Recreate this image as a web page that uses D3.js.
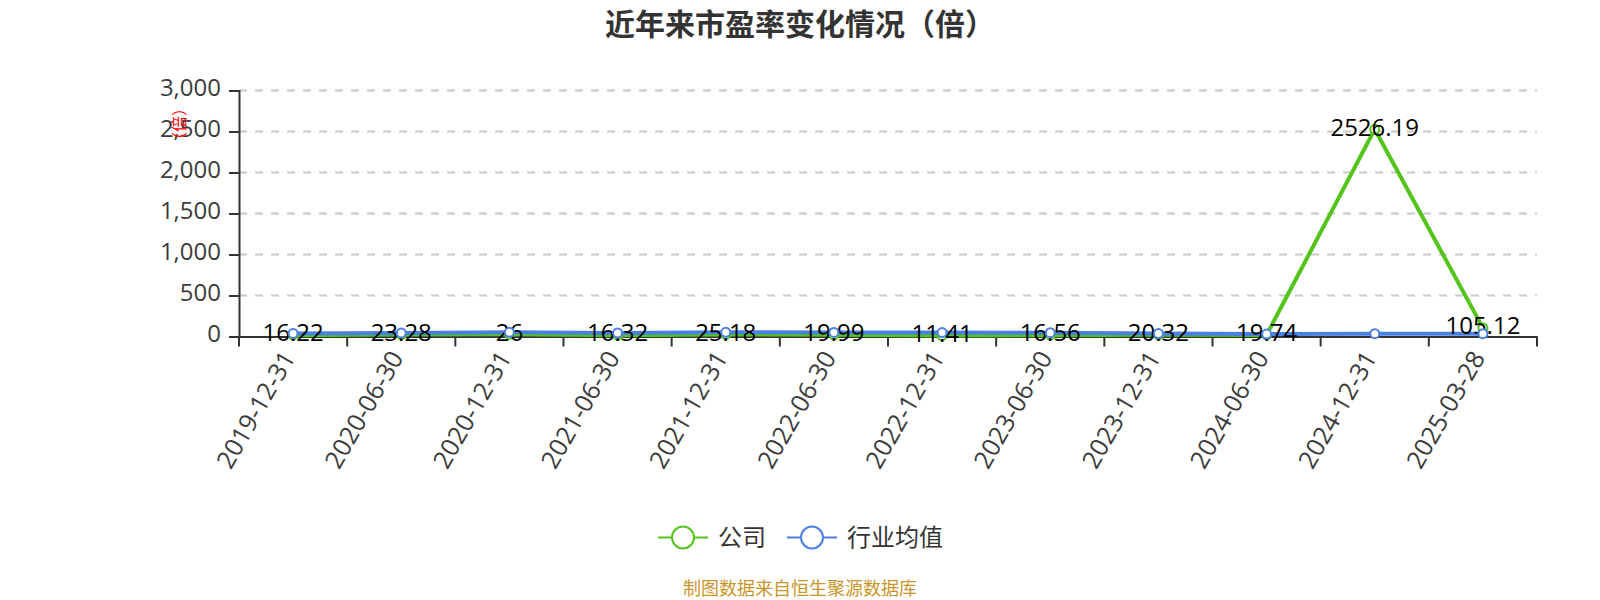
<!DOCTYPE html>
<html>
<head>
<meta charset="utf-8">
<script src="https://cdn.jsdelivr.net/npm/d3@7"></script>
<style>
  html, body { margin: 0; background: #fff; }
  text { font-family: "Open Sans", "Noto Sans CJK SC", sans-serif; }
</style>
</head>
<body>
<div id="chart"></div>
<script>
const dates = ['2019-12-31', '2020-06-30', '2020-12-31', '2021-06-30', '2021-12-31', '2022-06-30',
  '2022-12-31', '2023-06-30', '2023-12-31', '2024-06-30', '2024-12-31', '2025-03-28'];
const company = [16.22, 23.28, 26, 16.32, 25.18, 19.99, 11.41, 16.56, 20.32, 19.74, 2526.19, 105.12];
const industry = [37, 43, 51, 44, 51, 50, 48, 46, 36, 30, 34, 35];
const yTicks = [0, 500, 1000, 1500, 2000, 2500, 3000];
const legendItems = ['公司', '行业均值'];

const green = '#52c41a';
const blue = '#4a7fe3';
const ink = '#333';

const width = 1600;
const height = 600;
const margin = { top: 90.5, right: 63, bottom: 263.5, left: 239 };

const svg = d3.select('#chart').append('svg')
  .attr('width', width)
  .attr('height', height)
  .style('display', 'block');

const x = d3.scaleBand().domain(dates).range([margin.left, width - margin.right]);
const y = d3.scaleLinear().domain([0, 3000]).range([height - margin.bottom, margin.top]);
const px = (d) => x(d) + x.bandwidth() / 2;

svg.append('text')
  .attr('x', 800)
  .attr('y', 35)
  .attr('text-anchor', 'middle')
  .style('font-size', '30px')
  .style('font-weight', 700)
  .style('fill', ink)
  .text('近年来市盈率变化情况（倍）');

// dashed grid
svg.append('g').selectAll('line')
  .data(yTicks.slice(1))
  .join('line')
  .attr('x1', margin.left)
  .attr('x2', width - margin.right)
  .attr('y1', (d) => y(d))
  .attr('y2', (d) => y(d))
  .attr('stroke', '#c8c8c8')
  .attr('stroke-width', 2)
  .attr('stroke-dasharray', '8 8');

// y axis
const yAxis = svg.append('g')
  .attr('transform', `translate(${margin.left},0)`)
  .call(d3.axisLeft(y).tickValues(yTicks).tickFormat(d3.format(',')).tickSize(10).tickPadding(8));
yAxis.selectAll('path, line').attr('stroke', ink).attr('stroke-width', 2);
yAxis.selectAll('text').style('font-size', '24px').style('fill', '#3c3c3c').attr('dy', '0.2em');

// x axis, ticks sit on band edges
const xAxis = svg.append('g')
  .attr('transform', `translate(0,${y(0)})`)
  .call(d3.axisBottom(x).tickSize(0));
xAxis.select('path').attr('stroke', ink).attr('stroke-width', 2);
xAxis.selectAll('text')
  .style('font-size', '25px')
  .style('fill', '#3c3c3c')
  .attr('text-anchor', 'end')
  .attr('y', 0)
  .attr('dy', 0)
  .attr('transform', 'translate(3,21) rotate(-60)');
xAxis.selectAll('g.edge')
  .data([...dates.map((d) => x(d)), width - margin.right])
  .join('line')
  .attr('class', 'edge')
  .attr('x1', (d) => d)
  .attr('x2', (d) => d)
  .attr('y1', 0)
  .attr('y2', 10)
  .attr('stroke', ink)
  .attr('stroke-width', 2);

// y axis name, sits over the 2,500 label in the original too
svg.append('text')
  .attr('transform', 'translate(179,124) rotate(-90)')
  .attr('text-anchor', 'middle')
  .attr('dy', '0.35em')
  .style('font-size', '16px')
  .style('fill', '#f00')
  .text('（倍）');

const line = d3.line().x((d, i) => px(dates[i])).y((d) => y(d));

svg.append('path').datum(company)
  .attr('d', line)
  .attr('fill', 'none')
  .attr('stroke', green)
  .attr('stroke-width', 4);
svg.append('path').datum(industry)
  .attr('d', line)
  .attr('fill', 'none')
  .attr('stroke', blue)
  .attr('stroke-width', 4);

svg.append('g').selectAll('circle')
  .data(company)
  .join('circle')
  .attr('cx', (d, i) => px(dates[i]))
  .attr('cy', (d) => y(d))
  .attr('r', 4.5)
  .attr('fill', '#fff')
  .attr('stroke', green)
  .attr('stroke-width', 2);

svg.append('g').selectAll('text')
  .data(company)
  .join('text')
  .attr('x', (d, i) => px(dates[i]))
  .attr('y', (d) => y(d) + 6.3)
  .attr('text-anchor', 'middle')
  .style('font-size', '24px')
  .style('fill', '#000')
  .text((d) => d);

svg.append('g').selectAll('circle')
  .data(industry)
  .join('circle')
  .attr('cx', (d, i) => px(dates[i]))
  .attr('cy', (d) => y(d))
  .attr('r', 4.5)
  .attr('fill', '#fff')
  .attr('stroke', blue)
  .attr('stroke-width', 2);

// legend
const legendX = [658, 787];
const legend = svg.append('g').selectAll('g')
  .data(legendItems)
  .join('g')
  .attr('transform', (d, i) => `translate(${legendX[i]},537.5)`);
legend.append('line')
  .attr('x2', 50)
  .attr('stroke', (d, i) => (i ? blue : green))
  .attr('stroke-width', 2);
legend.append('circle')
  .attr('cx', 25)
  .attr('r', 11)
  .attr('fill', '#fff')
  .attr('stroke', (d, i) => (i ? blue : green))
  .attr('stroke-width', 2);
legend.append('text')
  .attr('x', 60)
  .attr('dy', '0.35em')
  .style('font-size', '24px')
  .style('fill', ink)
  .text((d) => d);

svg.append('text')
  .attr('x', 800)
  .attr('y', 595)
  .attr('text-anchor', 'middle')
  .style('font-size', '18px')
  .style('fill', '#c9952b')
  .text('制图数据来自恒生聚源数据库');
</script>
</body>
</html>
